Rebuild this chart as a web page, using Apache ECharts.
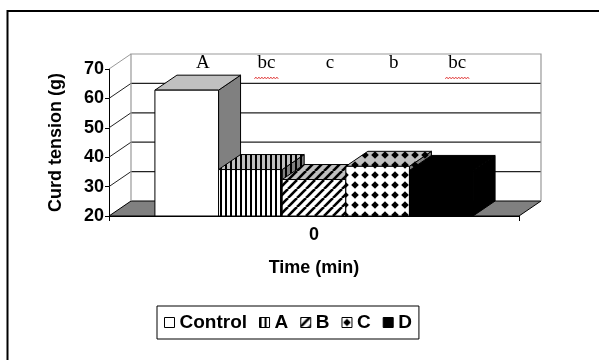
<!DOCTYPE html>
<html>
<head>
<meta charset="utf-8">
<script src="https://cdn.jsdelivr.net/npm/echarts@6/dist/echarts.min.js"></script>
<style>
html,body{margin:0;padding:0;background:#fff;}
#chart{width:599px;height:360px;}
</style>
</head>
<body>
<div id="chart"></div>
<script>
// ---- data ----
const categories = ['0'];
const seriesNames = ['Control', 'A', 'B', 'C', 'D'];
const curdTension = [62.8, 35.8, 32.4, 36.9, 35.5];
const sigLetters = ['A', 'bc', 'c', 'b', 'bc'];
const yMin = 20, yMax = 70, yStep = 10;

// ---- layout / style constants ----
const DX = 22, DY = -15;
const BAR_FRAC = 0.776;
const N = seriesNames.length;
const FONT = 'Liberation Sans, Arial, sans-serif';
const SERIF = 'Liberation Serif, Times New Roman, serif';

function makeCanvas(w, h, draw) {
  const c = document.createElement('canvas');
  c.width = w; c.height = h;
  draw(c.getContext('2d'), w, h);
  return { image: c, repeat: 'repeat' };
}
function vStripe(bg) {
  return makeCanvas(5, 5, (g, w, h) => {
    g.fillStyle = bg; g.fillRect(0, 0, w, h);
    g.fillStyle = '#000'; g.fillRect(0, 0, 2, h);
  });
}
function diag(bg) {
  return makeCanvas(9, 9, (g, w, h) => {
    g.fillStyle = bg; g.fillRect(0, 0, w, h);
    g.strokeStyle = '#000'; g.lineWidth = 2.6;
    for (const o of [-9, 0, 9]) {
      g.beginPath(); g.moveTo(o, h); g.lineTo(o + w, 0); g.stroke();
    }
  });
}
function diamonds(bg) {
  return makeCanvas(10, 10, (g, w, h) => {
    g.fillStyle = bg; g.fillRect(0, 0, w, h);
    g.fillStyle = '#000';
    g.beginPath(); g.moveTo(5, 1.2); g.lineTo(8.8, 5); g.lineTo(5, 8.8); g.lineTo(1.2, 5); g.closePath(); g.fill();
  });
}
const LIGHT = '#c0c0c0', DARK = '#808080';
const faces = [
  { front: '#ffffff', top: LIGHT, side: DARK },
  { front: vStripe('#fff'), top: vStripe(LIGHT), side: vStripe(DARK) },
  { front: diag('#fff'), top: diag(LIGHT), side: diag(DARK) },
  { front: diamonds('#fff'), top: diamonds(LIGHT), side: diamonds(DARK) },
  { front: '#000', top: '#000', side: '#000' }
];

function wallRender(params, api) {
  const cs = params.coordSys;
  const L = cs.x, R = cs.x + cs.width;
  const y0 = api.coord([0, yMin])[1];
  const yT = api.coord([0, yMax])[1];
  const ch = [];
  // floor
  ch.push({ type: 'polygon', shape: { points: [[L, y0], [R, y0], [R + DX, y0 + DY], [L + DX, y0 + DY]] },
    style: { fill: DARK, stroke: '#000', lineWidth: 1 } });
  // back wall gridlines and left wall lines
  for (let v = yMin + yStep; v < yMax; v += yStep) {
    const y = api.coord([0, v])[1];
    ch.push({ type: 'line', shape: { x1: L + DX, y1: y + DY, x2: R + DX, y2: y + DY }, style: { stroke: '#222', lineWidth: 1.2 } });
    ch.push({ type: 'line', shape: { x1: L, y1: y, x2: L + DX, y2: y + DY }, style: { stroke: '#222', lineWidth: 1 } });
  }
  // back wall borders
  ch.push({ type: 'polyline', shape: { points: [[L + DX, y0 + DY], [L + DX, yT + DY], [R + DX, yT + DY], [R + DX, y0 + DY]] },
    style: { fill: null, stroke: '#999', lineWidth: 1.2 } });
  ch.push({ type: 'line', shape: { x1: L, y1: yT, x2: L + DX, y2: yT + DY }, style: { stroke: '#999', lineWidth: 1 } });
  return { type: 'group', children: ch };
}

function barRender(i) {
  return function (params, api) {
    const base = api.coord([api.value(0), yMin]);
    const top = api.coord([api.value(0), api.value(1)]);
    const band = api.size([1, 0])[0];
    const w = band * BAR_FRAC / N;
    const x0 = base[0] - w * N / 2 + i * w;
    const x1 = x0 + w;
    const yt = top[1], yb = base[1];
    const f = faces[i];
    const st = { stroke: '#000', lineWidth: 1 };
    const ch = [
      { type: 'polygon', shape: { points: [[x1, yt], [x1 + DX, yt + DY], [x1 + DX, yb + DY], [x1, yb]] }, style: Object.assign({ fill: f.side }, st) },
      { type: 'polygon', shape: { points: [[x0, yt], [x1, yt], [x1 + DX, yt + DY], [x0 + DX, yt + DY]] }, style: Object.assign({ fill: f.top }, st) },
      { type: 'rect', shape: { x: x0, y: yt, width: w, height: yb - yt }, style: Object.assign({ fill: f.front }, st) }
    ];
    // significance letter
    const ly = api.coord([0, yMax])[1] - 6;
    const lx = x0 + w / 2 + DX / 2 + 5;
    const txt = sigLetters[i];
    ch.push({ type: 'text', style: { text: txt, x: lx, y: ly, align: 'center', verticalAlign: 'middle',
      font: '19px ' + SERIF, fill: '#000' } });
    if (txt.length > 1) {
      const tw = 9 * txt.length + 6;
      const pts = [];
      for (let k = 0; k <= tw / 1.5; k++) pts.push([lx - tw / 2 + k * 1.5, ly + 15 + (k % 2 ? -1 : 1)]);
      ch.push({ type: 'polyline', shape: { points: pts }, style: { stroke: '#e03030', lineWidth: 0.8, fill: null } });
    }
    return { type: 'group', children: ch };
  };
}

const chart = echarts.init(document.getElementById('chart'), null, { renderer: 'canvas' });
const series = [{
  type: 'custom', name: '_walls', silent: true, renderItem: wallRender,
  data: [[0, yMin]], encode: { x: 0, y: 1 }, z: 1
}];
seriesNames.forEach((nm, i) => {
  series.push({
    type: 'custom', name: nm, silent: true, renderItem: barRender(i),
    data: [[0, curdTension[i]]], encode: { x: 0, y: 1 },
    itemStyle: { color: faces[i].front }, z: 2
  });
});

chart.setOption({
  animation: false,
  backgroundColor: '#fff',
  graphic: [{ type: 'rect', shape: { x: 7.5, y: 11, width: 640, height: 400 }, style: { fill: null, stroke: '#000', lineWidth: 2 }, z: 100 }],
  grid: { left: 109, right: 80, top: 69, bottom: 144 },
  xAxis: {
    type: 'category', data: categories,
    axisLine: { lineStyle: { color: '#000', width: 1 } },
    axisTick: { show: true, length: 5, lineStyle: { color: '#000' } },
    axisLabel: { color: '#000', fontFamily: FONT, fontWeight: 'bold', fontSize: 18, margin: 10 },
    name: 'Time (min)', nameLocation: 'middle', nameGap: 43,
    nameTextStyle: { color: '#000', fontFamily: FONT, fontWeight: 'bold', fontSize: 18 },
    splitLine: { show: false }
  },
  yAxis: {
    type: 'value', min: yMin, max: yMax, interval: yStep,
    axisLine: { show: true, lineStyle: { color: '#000', width: 1 } },
    axisTick: { show: true, length: 4, lineStyle: { color: '#000' } },
    axisLabel: { color: '#000', fontFamily: FONT, fontWeight: 'bold', fontSize: 18, margin: 5 },
    splitLine: { show: false },
    name: 'Curd tension (g)', nameLocation: 'middle', nameGap: 44, nameRotate: 90,
    nameTextStyle: { color: '#000', fontFamily: FONT, fontWeight: 'bold', fontSize: 18 }
  },
  legend: {
    data: seriesNames.map((nm, i) => ({ name: nm, icon: 'rect', itemStyle: { color: faces[i].front, borderColor: '#000', borderWidth: 1 } })),
    left: 157, top: 306, orient: 'horizontal',
    itemWidth: 10, itemHeight: 10, itemGap: 12,
    padding: [7, 7], borderColor: '#000', borderWidth: 1,
    textStyle: { color: '#000', fontFamily: FONT, fontWeight: 'bold', fontSize: 19 },
    selectedMode: false
  },
  series: series
});
</script>
</body>
</html>
